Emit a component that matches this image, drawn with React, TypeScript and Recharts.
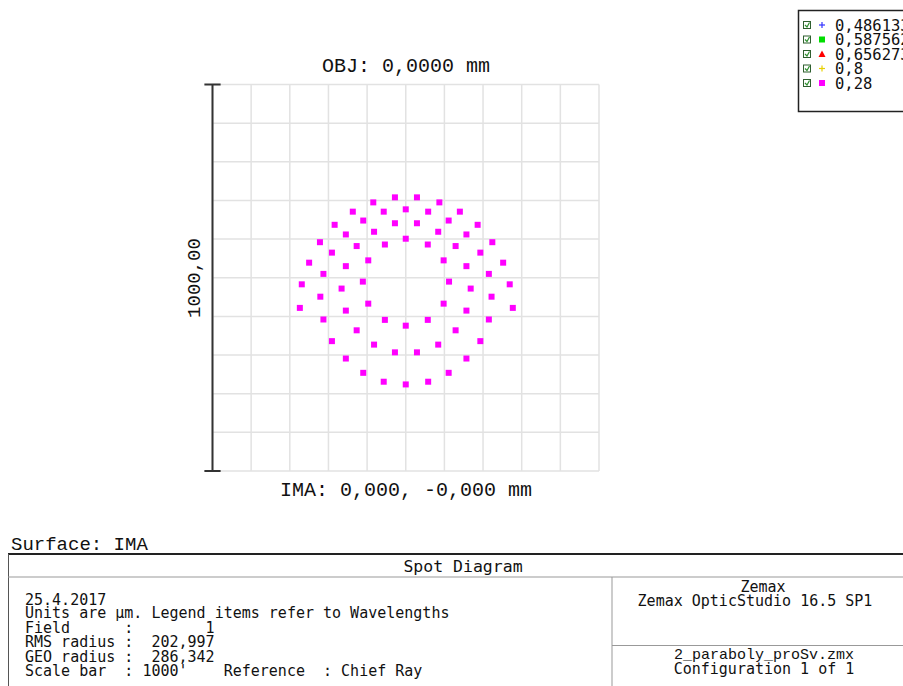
import React from 'react';
import {
    ScatterChart,
    Scatter,
    XAxis,
    YAxis,
    CartesianGrid,
    ReferenceLine
} from 'recharts';

// spot positions in µm, relative to the chief ray
const spotX = [
    -28, 29, -84, 87, 0, -137, -57, 58, 140, -110, 111, -28, 29, -184, 186, -82, 84, -155, 157, 0,
    -222, 224, -54, 57, -127, 129, -191, 193, -97, 98, -250, 252, -155, 157, -213, 215, -111, 112,
    -269, 269, -166, 168, -221, 222, -97, 98, -274, 277, -155, 157, -213, 215, -54, 57, 0, -127, 129,
    -191, 193, -82, 84, -28, 29, -155, 157, -110, 111, -57, 58, 0
];
const spotY = [
    208, 208, 195, 195, 177, 171, 171, 171, 171, 148, 148, 141, 141, 137, 137, 119, 119, 112, 112, 101,
    92, 92, 86, 86, 82, 82, 65, 65, 45, 45, 39, 39, 30, 30, 10, 10, -10, -10,
    -17, -17, -28, -28, -49, -49, -67, -67, -78, -78, -85, -85, -108, -108, -109, -109, -124, -136, -136,
    -164, -164, -173, -173, -193, -193, -209, -209, -246, -246, -269, -269, -276
];

const gridTicks = [-500, -400, -300, -200, -100, 0, 100, 200, 300, 400, 500];

const wavelengths = ['0,486133', '0,587562', '0,656273', '0,8', '0,28'];
const wavelengthColors = ['#3333ff', '#00dd00', '#ff0000', '#e8d000', '#ff00ff'];
const wavelengthMarks = ['plus', 'square', 'triangle', 'plus', 'square'];

const infoLines = [
    '25.4.2017',
    'Units are µm. Legend items refer to Wavelengths',
    'Field      :        1',
    'RMS radius :  202,997',
    'GEO radius :  286,342',
    "Scale bar  : 1000'    Reference  : Chief Ray"
];
const infoBaselines = [605, 618, 633, 647, 662, 676];

const spots = spotX.map((x, i) => ({ x, y: spotY[i] }));

const mono = '"Liberation Mono", "DejaVu Sans Mono", monospace';
const narrow = '"DejaVu Sans Mono", "Liberation Mono", monospace';

const SpotMark = (props: any) => {
    const { cx, cy } = props;
    if (cx == null || cy == null) return null;
    return <rect x={cx - 3} y={cy - 3} width={6} height={6} fill='#ff00ff' />;
};

const LegendMark = ({ kind, color, x, y }: { kind: string; color: string; x: number; y: number }) => {
    if (kind === 'plus') {
        return (
            <g stroke={color} strokeWidth={1.2}>
                <line x1={x - 3} y1={y} x2={x + 3} y2={y} />
                <line x1={x} y1={y - 3} x2={x} y2={y + 3} />
            </g>
        );
    }
    if (kind === 'triangle') {
        return <polygon points={`${x},${y - 3.5} ${x + 3.5},${y + 3} ${x - 3.5},${y + 3}`} fill={color} />;
    }
    return <rect x={x - 3} y={y - 3} width={6} height={6} fill={color} />;
};

const Overlay = () => (
    <svg
        width={903}
        height={686}
        style={{ position: 'absolute', left: 0, top: 0, pointerEvents: 'none' }}
        fontFamily={mono}
    >
        <text x={406} y={72} fontSize={20} textAnchor='middle' fill='#111'>OBJ: 0,0000 mm</text>
        <text x={406} y={496} fontSize={20} textAnchor='middle' fill='#111'>IMA: 0,000, -0,000 mm</text>
        <text
            x={195}
            y={278}
            fontSize={19}
            textAnchor='middle'
            dominantBaseline='central'
            fill='#111'
            transform='rotate(-90 195 278)'
        >
            1000,00
        </text>

        {/* legend */}
        <rect x={798.5} y={10.5} width={120} height={101} fill='#fff' stroke='#222' strokeWidth={1.5} />
        {wavelengths.map((w, i) => {
            const cy = 25 + i * 14.5;
            return (
                <g key={w}>
                    <rect x={803.5} y={cy - 3.5} width={7} height={7} fill='#fff' stroke='#2f5f2f' />
                    <path d={`M${805} ${cy} L${807} ${cy + 2} L${809.5} ${cy - 2.5}`} stroke='#2f8f2f' fill='none' strokeWidth={1.2} />
                    <LegendMark kind={wavelengthMarks[i]} color={wavelengthColors[i]} x={822} y={cy} />
                    <text x={835} y={cy + 5.5} fontSize={15.5} fontFamily={narrow} fill='#111'>{w}</text>
                </g>
            );
        })}

        {/* info block */}
        <text x={11} y={550} fontSize={19} fill='#111'>Surface: IMA</text>
        <line x1={8} y1={554} x2={903} y2={554} stroke='#222' strokeWidth={2} />
        <line x1={8.5} y1={554} x2={8.5} y2={686} stroke='#555' strokeWidth={1} />
        <line x1={8} y1={577} x2={903} y2={577} stroke='#999' strokeWidth={1} />
        <line x1={612} y1={577} x2={612} y2={686} stroke='#999' strokeWidth={1} />
        <line x1={612} y1={645.5} x2={903} y2={645.5} stroke='#999' strokeWidth={1} />
        <text x={463} y={572} fontSize={16.5} fontFamily={narrow} textAnchor='middle' fill='#111'>Spot Diagram</text>
        {infoLines.map((line, i) => (
            <text key={i} x={25} y={infoBaselines[i]} fontSize={15} fontFamily={narrow} fill='#111' style={{ whiteSpace: 'pre' }}>
                {line}
            </text>
        ))}
        <g fontFamily={narrow} fontSize={15} fill='#111' textAnchor='middle'>
            <text x={763} y={592}>Zemax</text>
            <text x={755} y={606}>Zemax OpticStudio 16.5 SP1</text>
            <text x={764} y={674}>Configuration 1 of 1</text>
        </g>
        <text x={764} y={659} fontFamily={mono} fontSize={15} fill='#111' textAnchor='middle'>2_paraboly_proSv.zmx</text>
    </svg>
);

export default function App() {
    return (
        <div style={{ position: 'absolute', left: 0, top: 0, width: 903, height: 686, background: '#fff' }}>
            <ScatterChart
                width={903}
                height={686}
                margin={{ top: 84.5, right: 304, bottom: 215, left: 212.5 }}
            >
                <XAxis type='number' dataKey='x' domain={[-500, 500]} ticks={gridTicks} hide />
                <YAxis type='number' dataKey='y' domain={[-500, 500]} ticks={gridTicks} hide />
                <CartesianGrid stroke='#e2e2e2' strokeWidth={1.5} />
                <ReferenceLine
                    segment={[{ x: -500, y: -500 }, { x: -500, y: 500 }]}
                    stroke='#333'
                    strokeWidth={2}
                    ifOverflow='visible'
                />
                <ReferenceLine
                    segment={[{ x: -521, y: 500 }, { x: -479, y: 500 }]}
                    stroke='#333'
                    strokeWidth={2}
                    ifOverflow='visible'
                />
                <ReferenceLine
                    segment={[{ x: -521, y: -500 }, { x: -479, y: -500 }]}
                    stroke='#333'
                    strokeWidth={2}
                    ifOverflow='visible'
                />
                <Scatter data={spots} shape={SpotMark} isAnimationActive={false} />
            </ScatterChart>
            <Overlay />
        </div>
    );
}
